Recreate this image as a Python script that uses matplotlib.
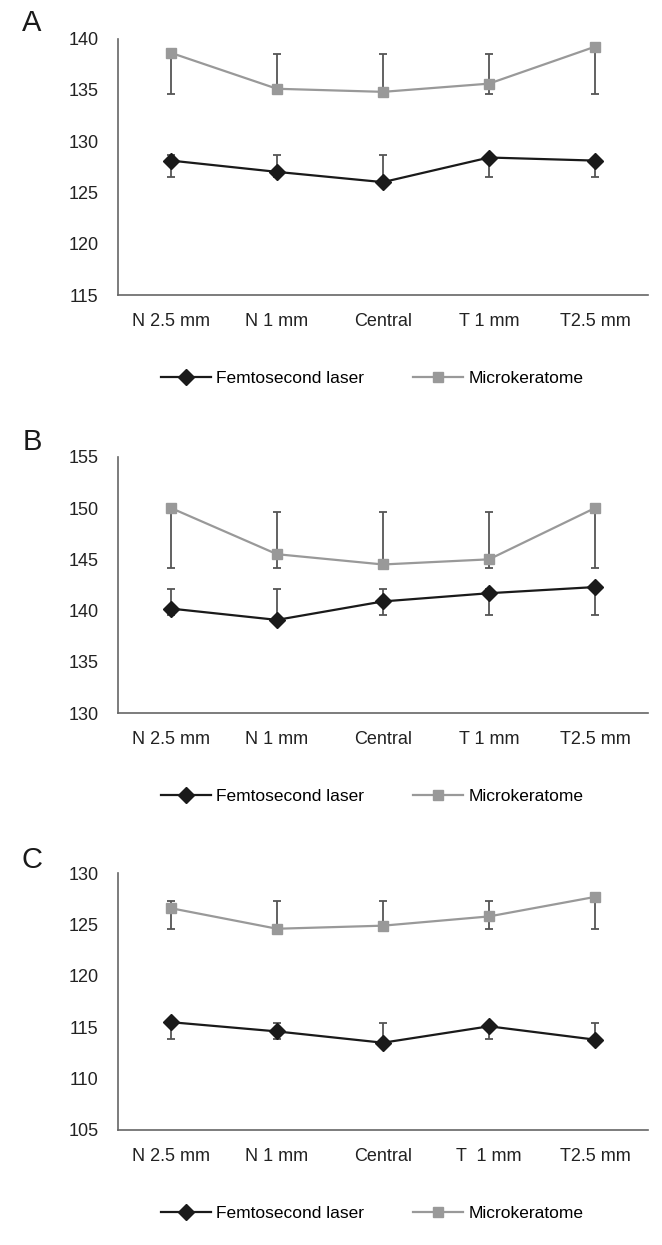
import matplotlib
matplotlib.use("Agg")
import matplotlib.pyplot as plt
import numpy as np

plt.rcParams['font.family'] = ['Liberation Sans', 'DejaVu Sans']

# categories
cats = ['N 2.5 mm', 'N 1 mm', 'Central', 'T 1 mm', 'T2.5 mm']
cats_c = ['N 2.5 mm', 'N 1 mm', 'Central', 'T  1 mm', 'T2.5 mm']

# panel A
femto_a = [128.1, 127.0, 126.0, 128.4, 128.1]
femto_a_lo = [126.5, 126.5, 126.5, 126.5, 126.5]
femto_a_hi = [128.6, 128.6, 128.6, 128.4, 128.1]
micro_a = [138.6, 135.1, 134.8, 135.6, 139.2]
micro_a_lo = [134.6, 135.1, 134.8, 134.6, 134.6]
micro_a_hi = [138.6, 138.5, 138.5, 138.5, 139.2]

# panel B
femto_b = [140.2, 139.1, 140.9, 141.7, 142.3]
femto_b_lo = [139.6, 139.1, 139.6, 139.6, 139.6]
femto_b_hi = [142.1, 142.1, 142.1, 142.1, 142.3]
micro_b = [150.0, 145.5, 144.5, 145.0, 150.0]
micro_b_lo = [144.2, 144.2, 144.2, 144.2, 144.2]
micro_b_hi = [150.0, 149.6, 149.6, 149.6, 150.0]

# panel C
femto_c = [115.5, 114.6, 113.5, 115.1, 113.8]
femto_c_lo = [113.9, 113.9, 113.5, 113.9, 113.8]
femto_c_hi = [115.5, 115.4, 115.4, 115.1, 115.4]
micro_c = [126.6, 124.6, 124.9, 125.8, 127.7]
micro_c_lo = [124.6, 124.6, 124.6, 124.6, 124.6]
micro_c_hi = [127.3, 127.3, 127.3, 127.3, 127.7]

panels = [
    ('A', cats, 115, 140, femto_a, femto_a_lo, femto_a_hi, micro_a, micro_a_lo, micro_a_hi),
    ('B', cats, 130, 155, femto_b, femto_b_lo, femto_b_hi, micro_b, micro_b_lo, micro_b_hi),
    ('C', cats_c, 105, 130, femto_c, femto_c_lo, femto_c_hi, micro_c, micro_c_lo, micro_c_hi),
]

W, H = 662, 1245
fig = plt.figure(figsize=(W / 100, H / 100), dpi=100)

# pixel positions of each axes (top, bottom) and the panel letters
ax_tb = [(38.5, 295), (456.7, 713.3), (873.3, 1130)]
letter_y = [23, 442, 860]
left, right = 118, 648

def err(vals, lo, hi):
    v = np.array(vals)
    return [np.clip(v - np.array(lo), 0, None), np.clip(np.array(hi) - v, 0, None)]

for i, (letter, labels, ymin, ymax, fe, fe_lo, fe_hi, mi, mi_lo, mi_hi) in enumerate(panels):
    top, bot = ax_tb[i]
    ax = fig.add_axes([left / W, 1 - bot / H, (right - left) / W, (bot - top) / H])
    x = np.arange(len(labels))

    ax.errorbar(x, mi, yerr=err(mi, mi_lo, mi_hi), fmt='none', ecolor='#555555',
                elinewidth=1.3, capsize=2.6, capthick=1.3, zorder=2)
    ax.errorbar(x, fe, yerr=err(fe, fe_lo, fe_hi), fmt='none', ecolor='#555555',
                elinewidth=1.3, capsize=2.6, capthick=1.3, zorder=2)
    ax.plot(x, fe, color='#1a1a1a', lw=1.6, marker='D', ms=8, mfc='#1a1a1a',
            mec='#1a1a1a', label='Femtosecond laser', zorder=3)
    ax.plot(x, mi, color='#999999', lw=1.6, marker='s', ms=7, mfc='#999999',
            mec='#999999', label='Microkeratome', zorder=3)

    ax.set_xlim(-0.5, len(labels) - 0.5)
    ax.set_ylim(ymin, ymax)
    ax.set_yticks(np.arange(ymin, ymax + 1, 5))
    ax.set_xticks(x)
    ax.set_xticklabels(labels)
    ax.tick_params(axis='both', length=0, labelsize=13, colors='#222222')
    ax.tick_params(axis='y', pad=14)
    ax.tick_params(axis='x', pad=13)
    for s in ['top', 'right']:
        ax.spines[s].set_visible(False)
    for s in ['left', 'bottom']:
        ax.spines[s].set_color('#666666')
        ax.spines[s].set_linewidth(1.2)

    ax.legend(loc='center', bbox_to_anchor=(372 / W, 1 - (bot + 83) / H),
              bbox_transform=fig.transFigure, ncol=2, frameon=False, fontsize=12.5,
              handlelength=2.9, columnspacing=2.8, handletextpad=0.3)

    fig.text(32 / W, 1 - letter_y[i] / H, letter, fontsize=21, ha='center', va='center',
             color='#1a1a1a')

fig.savefig('out.png', dpi=100)
